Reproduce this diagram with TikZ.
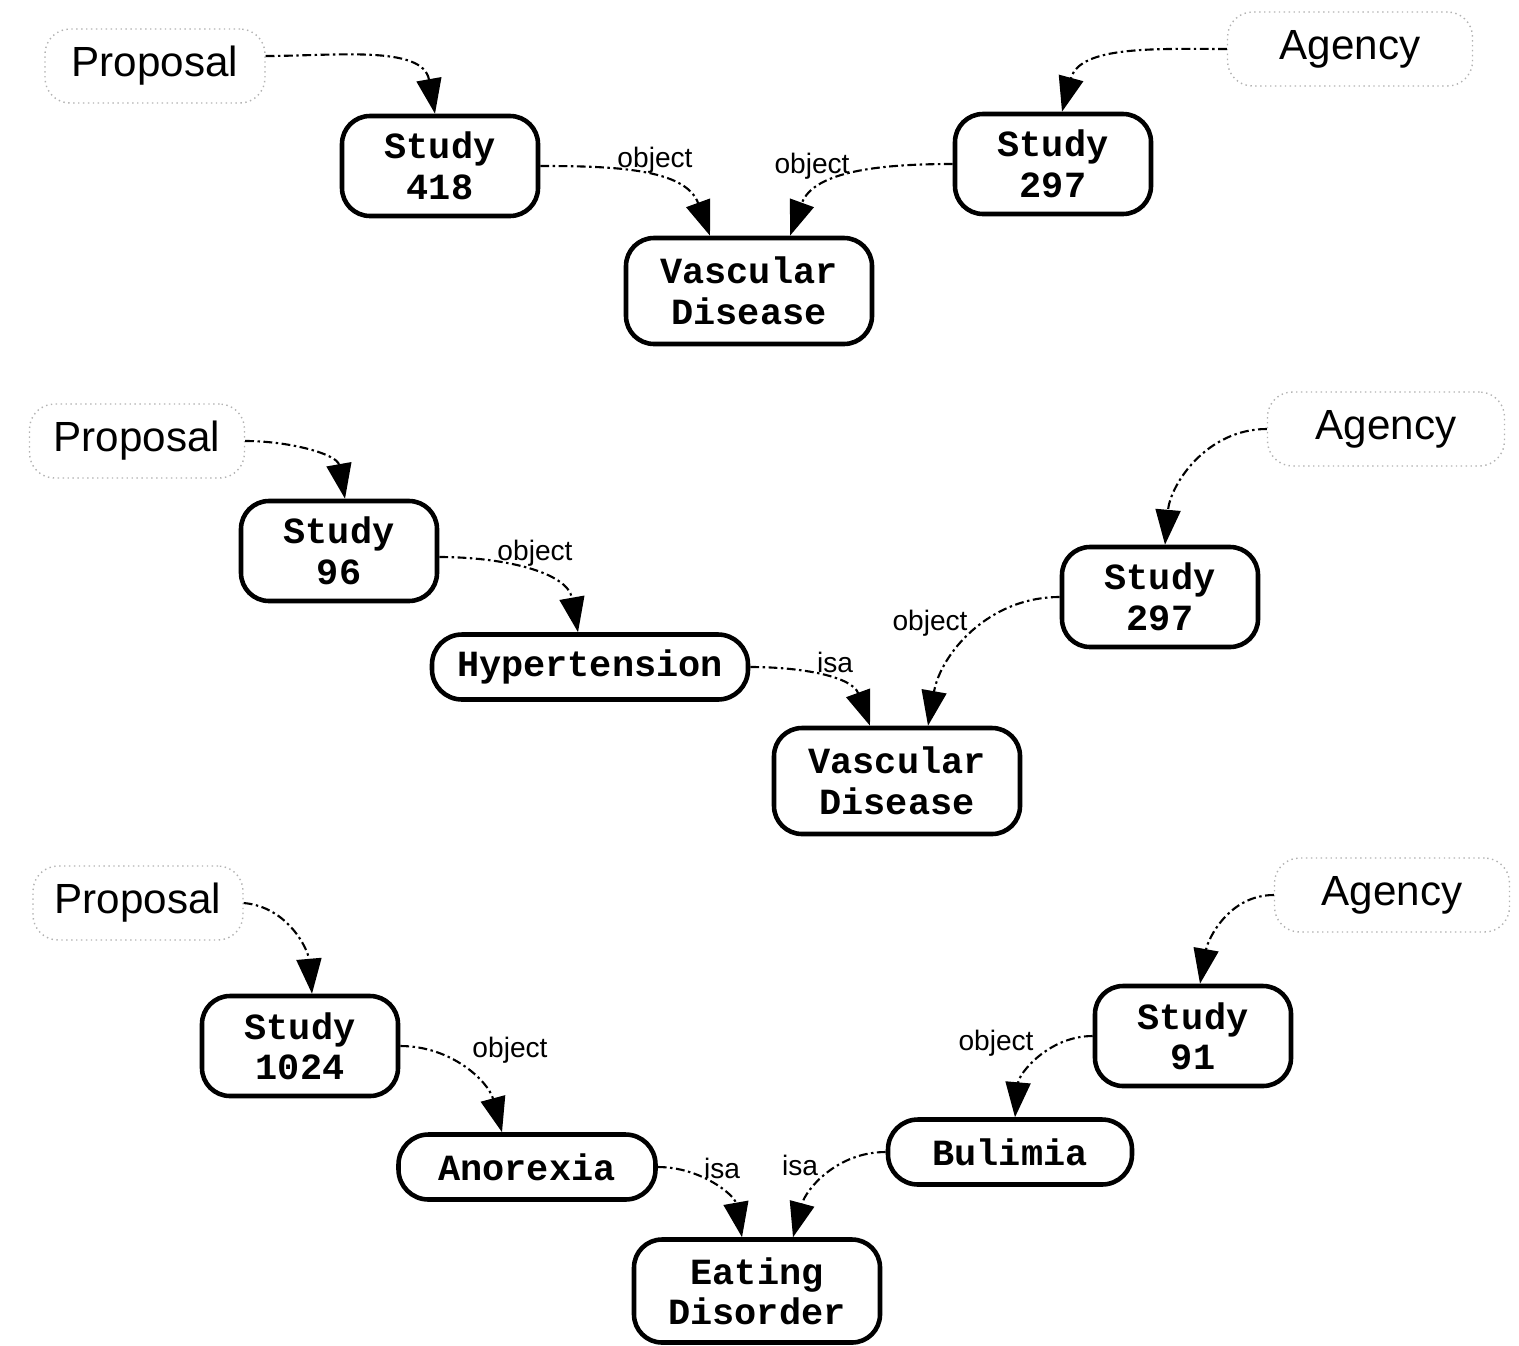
\documentclass[tikz,border=0pt]{standalone}
\usepackage{fontspec}
\setmainfont{Liberation Sans}
\newfontfamily\conceptfont{Liberation Mono}
\usepackage{tikz}
\usetikzlibrary{arrows.meta}

\begin{document}
\begin{tikzpicture}[
    concept/.style={draw=black, line width=1.3pt, rounded corners=0.28cm, align=center, inner sep=0pt,
        font=\conceptfont\bfseries\fontsize{10.5}{11.5}\selectfont},
    twoline/.style={concept, minimum width=1.96cm, minimum height=1.0cm},
    wide/.style={concept, minimum width=2.46cm, minimum height=1.06cm},
    oneline/.style={concept, minimum height=0.65cm, rounded corners=0.3cm},
    source/.style={draw=black!30, densely dotted, rounded corners=0.25cm, minimum height=0.74cm,
        font=\fontsize{12}{14}\selectfont},
    link/.style={line width=0.6pt, dash pattern=on 2.5pt off 1pt on 0.7pt off 1pt,
        -{Triangle[length=3.5mm, width=2.5mm]}},
    rel/.style={font=\fontsize{8}{9}\selectfont, inner sep=1pt},
]
\useasboundingbox (0,0) rectangle (15.19,-13.45);

% --- STUDIES 418 / 297 ---
\node[source, minimum width=2.2cm] (prop1) at (1.55,-0.66) {Proposal};
\node[source, minimum width=2.45cm] (agen1) at (13.50,-0.49) {Agency};
\node[twoline] (st418) at (4.40,-1.66) {Study\\418};
\node[twoline] (st297a) at (10.53,-1.64) {Study\\297};
\node[wide] (vasc1) at (7.49,-2.91) {Vascular\\Disease};

\draw[link] ([yshift=0.1cm]prop1.east) to[out=0, in=100] ([xshift=-0.05cm]st418.north);
\draw[link] (agen1.west) to[out=180, in=75] ([xshift=0.09cm]st297a.north);
\draw[link] (st418.east) to[out=0, in=110] ([xshift=-0.39cm]vasc1.north);
\draw[link] (st297a.west) to[out=180, in=70] ([xshift=0.41cm]vasc1.north);
\node[rel] (o1) at (6.55,-1.60) {object};
\node[rel] (o2) at (8.12,-1.66) {object};

% --- STUDIES 96 / 297 ---
\node[source, minimum width=2.15cm] (prop2) at (1.37,-4.41) {Proposal};
\node[source, minimum width=2.37cm] (agen2) at (13.86,-4.29) {Agency};
\node[twoline] (st96) at (3.39,-5.51) {Study\\96};
\node[oneline, minimum width=3.16cm] (hyper) at (5.90,-6.67) {Hypertension};
\node[twoline] (st297b) at (11.60,-5.97) {Study\\297};
\node[wide] (vasc2) at (8.97,-7.81) {Vascular\\Disease};

\draw[link] (prop2.east) to[out=0, in=100] ([xshift=0.06cm]st96.north);
\draw[link] (agen2.west) to[out=180, in=85] ([xshift=0.05cm]st297b.north);
\draw[link] ([yshift=-0.06cm]st96.east) to[out=0, in=100] ([xshift=-0.12cm]hyper.north);
\draw[link] (hyper.east) to[out=0, in=110] ([xshift=-0.27cm]vasc2.north);
\draw[link] (st297b.west) to[out=180, in=80] ([xshift=0.31cm]vasc2.north);
\node[rel] (o3) at (5.35,-5.53) {object};
\node[rel] (i1) at (8.35,-6.62) {isa};
\node[rel] (o4) at (9.30,-6.23) {object};

% --- STUDIES 1024 / 91 ---
\node[source, minimum width=2.1cm] (prop3) at (1.38,-9.03) {Proposal};
\node[source, minimum width=2.35cm] (agen3) at (13.92,-8.95) {Agency};
\node[twoline] (st1024) at (3.00,-10.46) {Study\\1024};
\node[oneline, minimum width=2.57cm] (anor) at (5.27,-11.67) {Anorexia};
\node[twoline] (st91) at (11.93,-10.36) {Study\\91};
\node[oneline, minimum width=2.44cm] (bulim) at (10.10,-11.52) {Bulimia};
\node[wide, minimum height=1.03cm] (eating) at (7.57,-12.91) {Eating\\Disorder};

\draw[link] (prop3.east) to[out=-5, in=95] ([xshift=0.12cm]st1024.north);
\draw[link] (agen3.west) to[out=180, in=80] ([xshift=0.07cm]st91.north);
\draw[link] (st1024.east) to[out=0, in=105] ([xshift=-0.25cm]anor.north);
\draw[link] (anor.east) to[out=0, in=100] ([xshift=-0.15cm]eating.north);
\draw[link] (st91.west) to[out=180, in=85] ([xshift=0.05cm]bulim.north);
\draw[link] (bulim.west) to[out=180, in=75] ([xshift=0.36cm]eating.north);
\node[rel] (o5) at (5.10,-10.50) {object};
\node[rel] (i2) at (7.22,-11.68) {isa};
\node[rel] (i3) at (8.00,-11.65) {isa};
\node[rel] (o6) at (9.96,-10.43) {object};

\end{tikzpicture}
\end{document}
